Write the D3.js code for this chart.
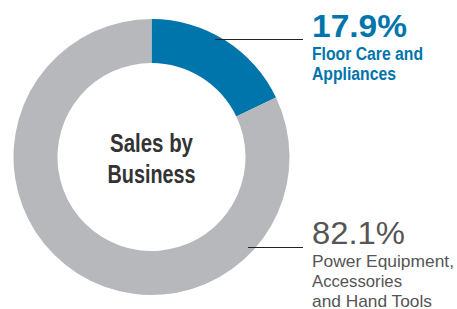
<!DOCTYPE html>
<html>
<head>
<meta charset="utf-8">
<script src="https://cdn.jsdelivr.net/npm/d3@7"></script>
<style>
  body { margin: 0; background: #fff; }
  text { font-family: "Liberation Sans", Arial, sans-serif; }
</style>
</head>
<body>
<script>
var categories = ["Floor Care and Appliances", "Power Equipment, Accessories and Hand Tools"];
var values = [17.9, 82.1];
var valueLabels = ["17.9%", "82.1%"];
var labelLines = [["Floor Care and", "Appliances"], ["Power Equipment,", "Accessories", "and Hand Tools"]];
var centerTitle = ["Sales by", "Business"];
var colors = ["#0075AB", "#B7B8BB"];
var textColors = ["#0075AB", "#555555"];

var width = 457, height = 309;
var cx = 151.5, cy = 157;
var outerR = 138, innerR = 94;

var svg = d3.select("body").append("svg")
  .attr("width", width)
  .attr("height", height);

var pie = d3.pie().sort(null).value(function(d) { return d; });
var arc = d3.arc().innerRadius(innerR).outerRadius(outerR);

var g = svg.append("g").attr("transform", "translate(" + cx + "," + cy + ")");

g.selectAll("path")
  .data(pie(values))
  .enter().append("path")
  .attr("d", arc)
  .attr("fill", function(d, i) { return colors[i]; });

// center title (condensed bold face, squeezed to match)
var titleWidths = [83, 88];
centerTitle.forEach(function(s, i) {
  g.append("text")
    .attr("text-anchor", "middle")
    .attr("y", i === 0 ? -5 : 26)
    .attr("font-size", 25)
    .attr("font-weight", "bold")
    .attr("fill", "#333")
    .attr("textLength", titleWidths[i])
    .attr("lengthAdjust", "spacingAndGlyphs")
    .text(s);
});

// labels with leader lines
var labelPos = [
  { lineX0: 215, lineY: 39.5, x: 312, y: 37, weight: "bold", valW: 95,
    subSize: 18, lh: 20, subW: [111, 84] },
  { lineX0: 248, lineY: 247.5, x: 312, y: 244, weight: "normal", valW: 93,
    subSize: 17, lh: 20, subW: [142, 90, 120] }
];

labelPos.forEach(function(p, i) {
  svg.append("line")
    .attr("x1", p.lineX0).attr("x2", 303)
    .attr("y1", p.lineY).attr("y2", p.lineY)
    .attr("stroke", "#222")
    .attr("stroke-width", 1.2);

  svg.append("text")
    .attr("x", p.x).attr("y", p.y)
    .attr("font-size", 31)
    .attr("font-weight", p.weight)
    .attr("fill", textColors[i])
    .attr("textLength", p.valW)
    .attr("lengthAdjust", "spacingAndGlyphs")
    .text(valueLabels[i]);

  labelLines[i].forEach(function(s, j) {
    svg.append("text")
      .attr("x", p.x).attr("y", p.y + 23 + j * p.lh)
      .attr("font-size", p.subSize)
      .attr("font-weight", p.weight)
      .attr("fill", textColors[i])
      .attr("textLength", p.subW[j])
      .attr("lengthAdjust", "spacingAndGlyphs")
      .text(s);
  });
});
</script>
</body>
</html>
